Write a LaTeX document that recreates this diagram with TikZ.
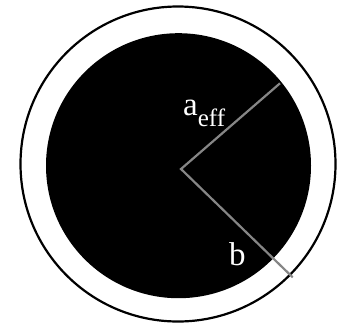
\documentclass[tikz,border=0pt]{standalone}
\usepackage{fontspec}
\setmainfont{Liberation Serif}
\begin{document}
\begin{tikzpicture}[x=1pt,y=-1pt,
  spoke/.style={draw=gray!95!white, line width=2.2pt},
  lbl/.style={text=white, inner sep=0pt, anchor=base west, font=\fontsize{33}{33}\selectfont}]
\useasboundingbox (0,0) rectangle (345,325);
\draw[line width=2.2pt] (178,164) circle[radius=157.5];
\fill[black] (178.5,165.7) circle[radius=132.5];
\coordinate (c) at (181,169);
\coordinate (A) at (280,83.3);
\coordinate (B) at (292.7,277.3);
\draw[spoke] (A) -- (c) -- (B);
\node[lbl] (aeff) at (183,115) {a\raisebox{-11.7pt}{\fontsize{25}{25}\selectfont eff}};
\node[lbl] (b) at (229,265) {b};
\end{tikzpicture}
\end{document}
